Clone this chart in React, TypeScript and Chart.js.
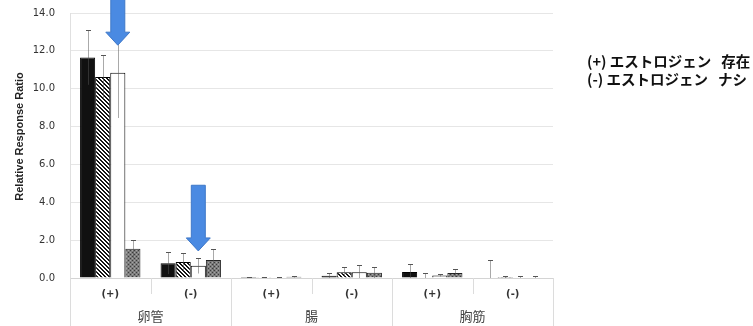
import React, { useEffect, useRef } from 'react';
import { Chart, registerables } from 'chart.js';

Chart.register(...registerables);

const categories = ['(+)', '(-)', '(+)', '(-)', '(+)', '(-)'];
const groups = ['卵管', '腸', '胸筋'];
const yTitle = 'Relative Response Ratio';

const seriesBlack = [11.65, 0.78, 0.05, 0.12, 0.32, 0.02];
const errBlack = [1.45, 0.6, 0.02, 0.15, 0.4, 0.92];
const seriesHatch = [10.62, 0.85, 0.04, 0.3, 0.02, 0.05];
const errHatch = [1.15, 0.48, 0.02, 0.28, 0.25, 0.04];
const seriesWhite = [10.85, 0.65, 0.03, 0.3, 0.13, 0.03];
const errWhite = [2.4, 0.4, 0.02, 0.4, 0.06, 0.07];
const seriesGray = [1.55, 0.95, 0.06, 0.28, 0.27, 0.02];
const errGray = [0.48, 0.6, 0.02, 0.28, 0.2, 0.1];

const legendLines = ['(+) エストロジェン   存在', '(-) エストロジェン   ナシ'];

// annotation arrows (category index, value of tip, value of shaft top) over the white series
const arrowSeries = 2;
const arrowCategories = [0, 1];
const arrowTips = [12.3, 1.43];
const arrowTops = [15.2, 4.9];

const errorSets = [errBlack, errHatch, errWhite, errGray];

function makeHatch(): CanvasPattern | string {
  const c = document.createElement('canvas');
  c.width = 4;
  c.height = 4;
  const g = c.getContext('2d');
  if (!g) return '#666';
  const img = g.createImageData(4, 4);
  for (let y = 0; y < 4; y++) {
    for (let x = 0; x < 4; x++) {
      const on = (((x - y) % 4) + 4) % 4 < 2;
      const i = (y * 4 + x) * 4;
      const v = on ? 20 : 255;
      img.data[i] = v;
      img.data[i + 1] = v;
      img.data[i + 2] = v;
      img.data[i + 3] = 255;
    }
  }
  g.putImageData(img, 0, 0);
  return g.createPattern(c, 'repeat') || '#666';
}

function makeSpeckle(): CanvasPattern | string {
  const c = document.createElement('canvas');
  c.width = 4;
  c.height = 4;
  const g = c.getContext('2d');
  if (!g) return '#888';
  g.fillStyle = '#7c7c7c';
  g.fillRect(0, 0, 4, 4);
  g.fillStyle = '#3c3c3c';
  g.fillRect(0, 0, 1, 1);
  g.fillRect(2, 2, 1, 1);
  g.fillStyle = '#a4a4a4';
  g.fillRect(2, 0, 1, 1);
  g.fillRect(0, 2, 1, 1);
  return g.createPattern(c, 'repeat') || '#888';
}

const errorBarPlugin = {
  id: 'errorBars',
  afterDatasetsDraw(chart: any) {
    const ctx = chart.ctx;
    const y = chart.scales.y;
    chart.data.datasets.forEach((ds: any, di: number) => {
      const meta = chart.getDatasetMeta(di);
      const errs = errorSets[di];
      meta.data.forEach((bar: any, i: number) => {
        const v = ds.data[i];
        const e = errs[i];
        const yt = Math.round(y.getPixelForValue(v + e)) + 0.5;
        const yb = y.getPixelForValue(Math.max(0, v - e));
        const x = Math.round(bar.x) + 0.5;
        ctx.save();
        ctx.strokeStyle = '#555';
        ctx.lineWidth = 1;
        ctx.setLineDash([1, 1]);
        ctx.beginPath();
        ctx.moveTo(x, yt);
        ctx.lineTo(x, yb);
        ctx.stroke();
        ctx.setLineDash([]);
        ctx.beginPath();
        ctx.moveTo(x - 2.5, yt);
        ctx.lineTo(x + 2.5, yt);
        ctx.stroke();
        ctx.restore();
      });
    });
  },
};

const arrowPlugin = {
  id: 'arrows',
  afterDatasetsDraw(chart: any) {
    const ctx = chart.ctx;
    const y = chart.scales.y;
    const meta = chart.getDatasetMeta(arrowSeries);
    arrowCategories.forEach((ci, k) => {
      const bar = meta.data[ci];
      const cx = bar.x;
      const tip = y.getPixelForValue(arrowTips[k]);
      const top = y.getPixelForValue(arrowTops[k]);
      const sw = 7;
      const hw = 12;
      const hl = 13;
      ctx.save();
      ctx.beginPath();
      ctx.moveTo(cx - sw, top);
      ctx.lineTo(cx + sw, top);
      ctx.lineTo(cx + sw, tip - hl);
      ctx.lineTo(cx + hw, tip - hl);
      ctx.lineTo(cx, tip);
      ctx.lineTo(cx - hw, tip - hl);
      ctx.lineTo(cx - sw, tip - hl);
      ctx.closePath();
      ctx.fillStyle = '#4a8ae2';
      ctx.fill();
      ctx.strokeStyle = '#3f78c8';
      ctx.lineWidth = 1;
      ctx.stroke();
      ctx.restore();
    });
  },
};

const separatorPlugin = {
  id: 'separators',
  afterDraw(chart: any) {
    const ctx = chart.ctx;
    const x = chart.scales.x;
    const y = chart.scales.y;
    const perGroup = categories.length / groups.length;
    const w = (x.right - x.left) / categories.length;
    ctx.save();
    ctx.strokeStyle = '#dcdcdc';
    ctx.lineWidth = 1;
    for (let k = 0; k <= categories.length; k++) {
      const px = Math.round(x.left + k * w) + 0.5;
      const y2 = k % perGroup === 0 ? chart.height : x.top + 16;
      ctx.beginPath();
      ctx.moveTo(px, x.top);
      ctx.lineTo(px, y2);
      ctx.stroke();
    }
    // y axis title, slightly above the centre of the axis as in the source figure
    const area = chart.chartArea;
    ctx.translate(y.left + 20, (area.top + area.bottom) / 2 - 9);
    ctx.rotate(-Math.PI / 2);
    ctx.fillStyle = '#222';
    ctx.font = "bold 11px 'Liberation Sans'";
    ctx.textAlign = 'center';
    ctx.textBaseline = 'middle';
    ctx.fillText(yTitle, 0, 0);
    ctx.restore();
  },
};

export default function App() {
  const ref = useRef<HTMLCanvasElement | null>(null);

  useEffect(() => {
    if (!ref.current) return;
    const hatch = makeHatch();
    const speckle = makeSpeckle();
    const chart = new Chart(ref.current, {
      type: 'bar',
      data: {
        labels: categories,
        datasets: [
          { data: seriesBlack, backgroundColor: '#111', borderColor: '#000', borderWidth: 1 },
          { data: seriesHatch, backgroundColor: hatch as any, borderColor: '#000', borderWidth: 1 },
          { data: seriesWhite, backgroundColor: '#fff', borderColor: '#000', borderWidth: 1 },
          { data: seriesGray, backgroundColor: speckle as any, borderColor: '#222', borderWidth: 1 },
        ],
      },
      options: {
        responsive: false,
        animation: false,
        layout: { padding: { top: 13, right: 200, left: 0, bottom: 0 } },
        plugins: { legend: { display: false }, tooltip: { enabled: false } },
        datasets: { bar: { categoryPercentage: 0.75, barPercentage: 1 } },
        scales: {
          x: {
            type: 'category',
            offset: true,
            weight: 0,
            grid: { display: false, offset: true, drawTicks: false },
            border: { display: true, color: '#d4d4d4' },
            ticks: {
              padding: 10,
              color: '#333',
              font: { family: 'DejaVu Sans', size: 10, weight: 'bold' },
              maxRotation: 0,
            },
            afterFit: (s: any) => {
              s.height = 28;
            },
          },
          x2: {
            type: 'category',
            labels: groups,
            position: 'bottom',
            offset: true,
            weight: 1,
            grid: { display: false, drawTicks: false },
            border: { display: false },
            ticks: {
              padding: 2,
              color: '#444',
              font: { family: 'Noto Sans CJK JP', size: 13 },
              maxRotation: 0,
            },
            afterFit: (s: any) => {
              s.height = 20;
            },
          },
          y: {
            min: 0,
            max: 14,
            grid: { color: '#e6e6e6', drawTicks: true, tickLength: 12, tickColor: 'rgba(0,0,0,0)' },
            border: { display: true, color: '#e0e0e0' },
            ticks: {
              stepSize: 2,
              padding: 3,
              color: '#333',
              font: { family: 'DejaVu Sans', size: 10 },
              callback: (v: any) => Number(v).toFixed(1),
            },
            afterFit: (s: any) => {
              s.width = 70;
            },
          },
        },
      },
      plugins: [errorBarPlugin, arrowPlugin, separatorPlugin],
    } as any);
    return () => chart.destroy();
  }, []);

  return (
    <div style={{ position: 'fixed', left: 0, top: 0, width: 753, height: 326, background: '#fff', overflow: 'hidden' }}>
      <canvas ref={ref} width={753} height={326} style={{ display: 'block' }} />
      <div
        style={{
          position: 'absolute',
          left: 587,
          top: 52,
          fontFamily: "'Noto Sans CJK JP', sans-serif",
          fontWeight: 'bold',
          fontSize: 14.5,
          lineHeight: '18px',
          color: '#111',
          whiteSpace: 'pre',
        }}
      >
        {legendLines.map((t) => (
          <div key={t}>{t}</div>
        ))}
      </div>
    </div>
  );
}
